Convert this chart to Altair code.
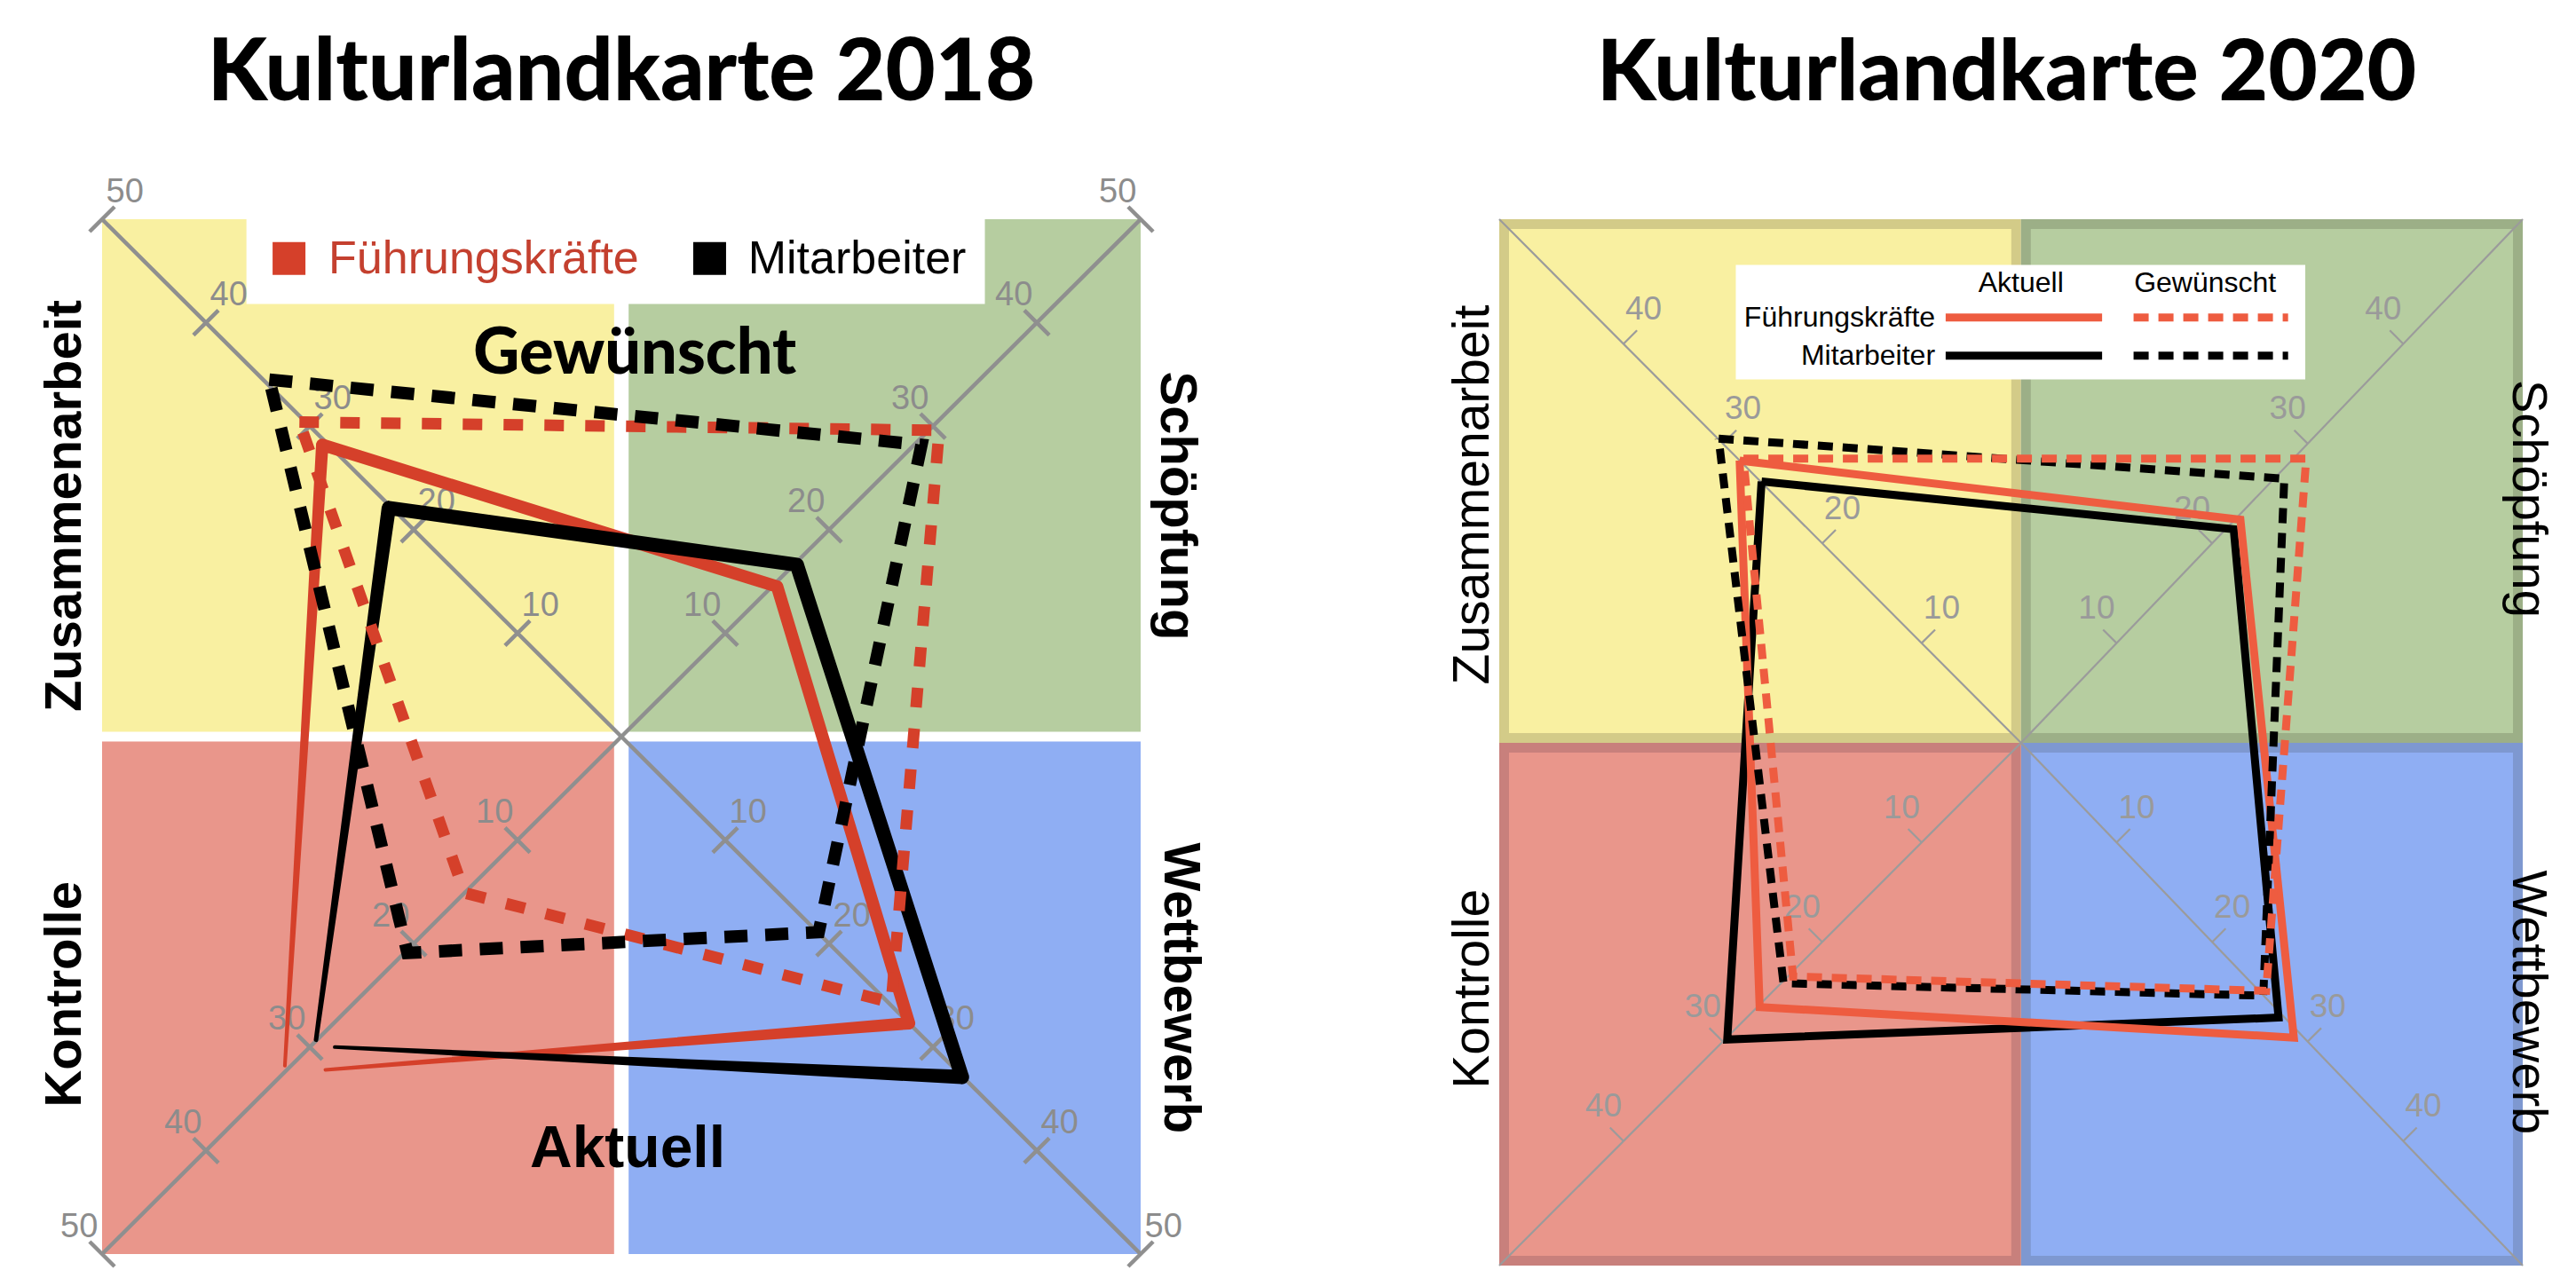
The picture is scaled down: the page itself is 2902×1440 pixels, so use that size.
import math
import altair as alt
import pandas as pd

# ------------------------------------------------------------------ data
AXES = ["Zusammenarbeit", "Schöpfung", "Wettbewerb", "Kontrolle"]
AXIS_SIGN_X = [-1, 1, 1, -1]
AXIS_SIGN_Y = [1, 1, -1, -1]

TITLES = ["Kulturlandkarte 2018", "Kulturlandkarte 2020"]
SERIES = ["Führungskräfte", "Mitarbeiter"]
STATES = ["Aktuell", "Gewünscht"]

TICKS_2018 = [10, 20, 30, 40, 50]
TICKS_2020 = [10, 20, 30, 40]

# vertices in map units (order: Zusammenarbeit, Schöpfung, Wettbewerb, Kontrolle)
# 2018 "Aktuell" strokes taper out at Kontrolle, so they are open paths:
# Kontrolle (start) -> Zusammenarbeit -> Schöpfung -> Wettbewerb -> Kontrolle (end)
FK_AKT_2018_X = [-32.4, -28.8, 15.0, 27.7, -28.5]
FK_AKT_2018_Y = [-31.8, 28.2, 14.5, -27.7, -32.2]
MA_AKT_2018_X = [-29.4, -22.4, 16.9, 32.8, -27.6]
MA_AKT_2018_Y = [-29.3, 22.1, 16.6, -32.9, -30.0]
FK_GEW_2018_X = [-31.0, 30.6, 26.0, -15.1]
FK_GEW_2018_Y = [30.4, 29.6, -25.7, -15.1]
MA_GEW_2018_X = [-33.9, 28.9, 19.0, -20.6]
MA_GEW_2018_Y = [34.5, 28.2, -18.9, -20.9]

FK_AKT_2020_X = [-29.5, 23.0, 28.6, -27.4]
FK_AKT_2020_Y = [29.6, 23.4, -30.9, -27.7]
MA_AKT_2020_X = [-27.2, 22.3, 27.0, -30.8]
MA_AKT_2020_Y = [27.4, 22.4, -28.8, -31.1]
FK_GEW_2020_X = [-29.1, 29.9, 25.7, -23.9]
FK_GEW_2020_Y = [29.8, 29.8, -26.0, -24.5]
MA_GEW_2020_X = [-31.7, 27.6, 25.4, -24.9]
MA_GEW_2020_Y = [31.9, 27.7, -26.5, -25.2]

# ------------------------------------------------------------------ style
SANS = "Liberation Sans"
HEAVY = "Lato"
RED18 = "#D5402A"
RED18_TEXT = "#C4402F"
RED20 = "#EE5C40"
BLACK = "#000000"

FILL_2018 = ["#F9F0A1", "#B6CDA0", "#8FAEF3", "#E9968B"]
FILL_2020 = ["#F8EF9F", "#B4CB9D", "#91AEF2", "#E8978B"]
EDGE_2020 = ["#D3CB88", "#9CAF87", "#7E98D0", "#C8807C"]

CFG_2018 = dict(xdom=[-50, 50], ydom=[-50, 50], width=1170, height=1166, cv=50,
                ticks=TICKS_2018, two_sided=True, tick_len=1.7, lab_ox=2.2, lab_oy=2.6,
                lab_size=38, lab_color="#8c8c8c", diag_color="#8f8f8f", diag_w=4.5,
                gap_x=0.7, gap_y=0.47, inset=0.0, fills=FILL_2018)
CFG_2020 = dict(xdom=[-54.7, 52.6], ydom=[-54.8, 54.9], width=1153, height=1179, cv=52.5,
                ticks=TICKS_2020, two_sided=False, tick_len=2.0, lab_ox=2.1, lab_oy=3.6,
                lab_size=37, lab_color="#9a9a9a", diag_color="#9b9b9b", diag_w=2.2,
                gap_x=0.0, gap_y=0.0, inset=0.51, fills=FILL_2020)


def corner(cfg, sx, sy):
    cx = cfg["xdom"][0] if sx < 0 else cfg["xdom"][1]
    cy = cfg["ydom"][0] if sy < 0 else cfg["ydom"][1]
    return cx, cy


def make_enc(cfg):
    xs = alt.Scale(domain=cfg["xdom"], nice=False, zero=False)
    ys = alt.Scale(domain=cfg["ydom"], nice=False, zero=False)

    def ex(f="x"):
        return alt.X(f"{f}:Q", scale=xs, axis=None)

    def ey(f="y"):
        return alt.Y(f"{f}:Q", scale=ys, axis=None)
    return ex, ey


def base_layers(cfg, ex, ey, edges=None):
    rows = []
    for name, sx, sy in zip(AXES, AXIS_SIGN_X, AXIS_SIGN_Y):
        gx, gy, ins = cfg["gap_x"], cfg["gap_y"], cfg["inset"]
        xmin, xmax = cfg["xdom"]
        ymin, ymax = cfg["ydom"]
        x1, x2 = (xmin + ins, -gx - ins) if sx < 0 else (gx + ins, xmax - ins)
        y1, y2 = (ymin + ins, -gy - ins) if sy < 0 else (gy + ins, ymax - ins)
        rows.append(dict(q=name, x=x1, x2=x2, y=y1, y2=y2))
    qdf = pd.DataFrame(rows)
    enc = dict(x=ex(), x2="x2:Q", y=ey(), y2="y2:Q",
               color=alt.Color("q:N", scale=alt.Scale(domain=AXES, range=cfg["fills"]), legend=None))
    if edges is not None:
        enc["stroke"] = alt.Stroke("q:N", scale=alt.Scale(domain=AXES, range=edges), legend=None)
        return [alt.Chart(qdf).mark_rect(strokeWidth=11, opacity=1).encode(**enc)]
    return [alt.Chart(qdf).mark_rect(opacity=1).encode(**enc)]


def axis_layers(cfg, ex, ey):
    drows, trows = [], []
    s2 = 1 / math.sqrt(2)
    for name, sx, sy in zip(AXES, AXIS_SIGN_X, AXIS_SIGN_Y):
        cx, cy = corner(cfg, sx, sy)
        drows.append(dict(x=0, y=0, x2=cx, y2=cy))
        side = -sx * sy
        qx, qy = side * s2, s2
        for v in cfg["ticks"]:
            bx, by = cx * v / cfg["cv"], cy * v / cfg["cv"]
            L = cfg["tick_len"]
            if cfg["two_sided"]:
                ax, ay, b2x, b2y = bx - qx * L, by - qy * L, bx + qx * L, by + qy * L
            else:
                ax, ay, b2x, b2y = bx, by, bx + qx * L, by + qy * L
            trows.append(dict(x=ax, y=ay, x2=b2x, y2=b2y,
                              lx=bx + side * cfg["lab_ox"], ly=by + cfg["lab_oy"], t=str(v)))
    ddf = pd.DataFrame(drows)
    tdf = pd.DataFrame(trows)
    diag = alt.Chart(ddf).mark_rule(color=cfg["diag_color"], strokeWidth=cfg["diag_w"], strokeCap="butt").encode(
        x=ex(), y=ey(), x2="x2:Q", y2="y2:Q")
    ticks = alt.Chart(tdf).mark_rule(color=cfg["diag_color"], strokeWidth=cfg["diag_w"], strokeCap="butt").encode(
        x=ex(), y=ey(), x2="x2:Q", y2="y2:Q")
    labels = alt.Chart(tdf).mark_text(font=SANS, fontSize=cfg["lab_size"], color=cfg["lab_color"],
                                      align="center", baseline="middle").encode(
        x=ex("lx"), y=ey("ly"), text="t:N")
    return [diag, ticks, labels]


def poly(xs, ys, ex, ey, color, width, dash=None):
    xs = list(xs) + list(xs[:1])
    ys = list(ys) + list(ys[:1])
    df = pd.DataFrame({"x": xs, "y": ys, "o": list(range(len(xs)))})
    kw = dict(color=color, strokeWidth=width, strokeJoin="miter", strokeCap="butt")
    if dash is not None:
        kw["strokeDash"] = dash
    return alt.Chart(df).mark_line(**kw).encode(x=ex(), y=ey(), order="o:Q")


def trail(xs, ys, widths, ex, ey, color):
    df = pd.DataFrame({"x": list(xs), "y": list(ys), "o": list(range(len(xs))), "w": widths})
    return alt.Chart(df).mark_trail(color=color).encode(
        x=ex(), y=ey(), order="o:Q", size=alt.Size("w:Q", scale=None, legend=None))


def text_layer(rows, ex, ey, **kw):
    df = pd.DataFrame(rows)
    return alt.Chart(df).mark_text(**kw).encode(x=ex(), y=ey(), text="t:N")


# ------------------------------------------------------------------ 2018 panel
ex, ey = make_enc(CFG_2018)
L18 = base_layers(CFG_2018, ex, ey)
# white legend band at the top of the map
L18.append(alt.Chart(pd.DataFrame([dict(x=-36.1, x2=35.0, y=41.8, y2=50)])).mark_rect(color="white").encode(
    x=ex(), x2="x2:Q", y=ey(), y2="y2:Q"))
L18 += axis_layers(CFG_2018, ex, ey)
L18.append(trail(FK_AKT_2018_X, FK_AKT_2018_Y, [4, 14, 14, 14, 4], ex, ey, RED18))
L18.append(trail(MA_AKT_2018_X, MA_AKT_2018_Y, [5, 16, 16, 16, 4], ex, ey, BLACK))
L18.append(poly(FK_GEW_2018_X, FK_GEW_2018_Y, ex, ey, RED18, 13, [22, 24]))
L18.append(poly(MA_GEW_2018_X, MA_GEW_2018_Y, ex, ey, BLACK, 14, [26, 20]))
L18.append(text_layer([dict(x=1.3, y=37.0, t=STATES[1])], ex, ey, font=HEAVY, fontWeight=900,
                      fontSize=72, align="center", baseline="middle", color=BLACK))
L18.append(text_layer([dict(x=0.6, y=-39.9, t=STATES[0])], ex, ey, font=SANS, fontWeight="bold",
                      fontSize=66, align="center", baseline="middle", color=BLACK))
# legend
sq = pd.DataFrame([dict(x=-32.0, y=46.2, c=RED18), dict(x=8.5, y=46.2, c=BLACK)])
L18.append(alt.Chart(sq).mark_square(size=1369, opacity=1).encode(
    x=ex(), y=ey(), color=alt.Color("c:N", scale=None)))
L18.append(text_layer([dict(x=-28.2, y=46.1, t=SERIES[0])], ex, ey, font=SANS, fontSize=52,
                      align="left", baseline="middle", color=RED18_TEXT))
L18.append(text_layer([dict(x=12.2, y=46.1, t=SERIES[1])], ex, ey, font=SANS, fontSize=52,
                      align="left", baseline="middle", color=BLACK))
# side labels
L18.append(text_layer([dict(x=-53.5, y=22.3, t=AXES[0]), dict(x=-53.5, y=-24.9, t=AXES[3])], ex, ey,
                      font=SANS, fontWeight="bold", fontSize=58, angle=270, align="center",
                      baseline="middle", color=BLACK))
L18.append(text_layer([dict(x=53.4, y=22.3, t=AXES[1]), dict(x=53.8, y=-24.3, t=AXES[2])], ex, ey,
                      font=SANS, fontWeight="bold", fontSize=58, angle=90, align="center",
                      baseline="middle", color=BLACK))
L18.append(text_layer([dict(x=0, y=61.5, t=TITLES[0])], ex, ey, font=HEAVY, fontWeight=900,
                      fontSize=97, align="center", baseline="alphabetic", color=BLACK))
panel18 = alt.layer(*L18).properties(width=CFG_2018["width"], height=CFG_2018["height"])

# ------------------------------------------------------------------ 2020 panel
ex, ey = make_enc(CFG_2020)
L20 = base_layers(CFG_2020, ex, ey, edges=EDGE_2020)
L20 += axis_layers(CFG_2020, ex, ey)
L20.append(alt.Chart(pd.DataFrame([dict(x=-29.9, x2=29.8, y=38.1, y2=50.1)])).mark_rect(color="white").encode(
    x=ex(), x2="x2:Q", y=ey(), y2="y2:Q"))
L20.append(poly(MA_AKT_2020_X, MA_AKT_2020_Y, ex, ey, BLACK, 9))
L20.append(poly(FK_AKT_2020_X, FK_AKT_2020_Y, ex, ey, RED20, 9))
L20.append(poly(MA_GEW_2020_X, MA_GEW_2020_Y, ex, ey, BLACK, 9, [17, 11]))
L20.append(poly(FK_GEW_2020_X, FK_GEW_2020_Y, ex, ey, RED20, 9, [17, 11]))
# legend
L20.append(text_layer([dict(x=0.0, y=48.2, t=STATES[0]), dict(x=19.3, y=48.2, t=STATES[1])], ex, ey,
                      font=SANS, fontSize=32, align="center", baseline="middle", color=BLACK))
L20.append(text_layer([dict(x=-9.0, y=44.6, t=SERIES[0]), dict(x=-9.0, y=40.6, t=SERIES[1])], ex, ey,
                      font=SANS, fontSize=32, align="right", baseline="middle", color=BLACK))
leg_solid = pd.DataFrame([dict(x=-7.9, x2=8.5, y=44.6, c=RED20), dict(x=-7.9, x2=8.5, y=40.6, c=BLACK)])
leg_dash = pd.DataFrame([dict(x=11.8, x2=28.0, y=44.6, c=RED20), dict(x=11.8, x2=28.0, y=40.6, c=BLACK)])
L20.append(alt.Chart(leg_solid).mark_rule(strokeWidth=9, strokeCap="butt").encode(
    x=ex(), x2="x2:Q", y=ey(), color=alt.Color("c:N", scale=None)))
L20.append(alt.Chart(leg_dash).mark_rule(strokeWidth=9, strokeCap="butt", strokeDash=[17, 11]).encode(
    x=ex(), x2="x2:Q", y=ey(), color=alt.Color("c:N", scale=None)))
L20.append(text_layer([dict(x=-57.4, y=26.0, t=AXES[0]), dict(x=-57.4, y=-25.8, t=AXES[3])], ex, ey,
                      font=SANS, fontSize=57, angle=270, align="center", baseline="middle", color=BLACK))
L20.append(text_layer([dict(x=53.2, y=25.6, t=AXES[1]), dict(x=53.2, y=-27.2, t=AXES[2])], ex, ey,
                      font=SANS, fontSize=56, angle=90, align="center", baseline="middle", color=BLACK))
L20.append(text_layer([dict(x=-1.5, y=67.4, t=TITLES[1])], ex, ey, font=HEAVY, fontWeight=900,
                      fontSize=96, align="center", baseline="alphabetic", color=BLACK))
panel20 = alt.layer(*L20).properties(width=CFG_2020["width"], height=CFG_2020["height"])

chart = alt.hconcat(panel18, panel20, spacing=404, bounds="flush").properties(
    padding={"left": 37, "top": 26, "right": 10, "bottom": 4}
).configure_view(strokeWidth=0)

chart.save("out.html", embed_options={"renderer": "svg", "actions": False})
